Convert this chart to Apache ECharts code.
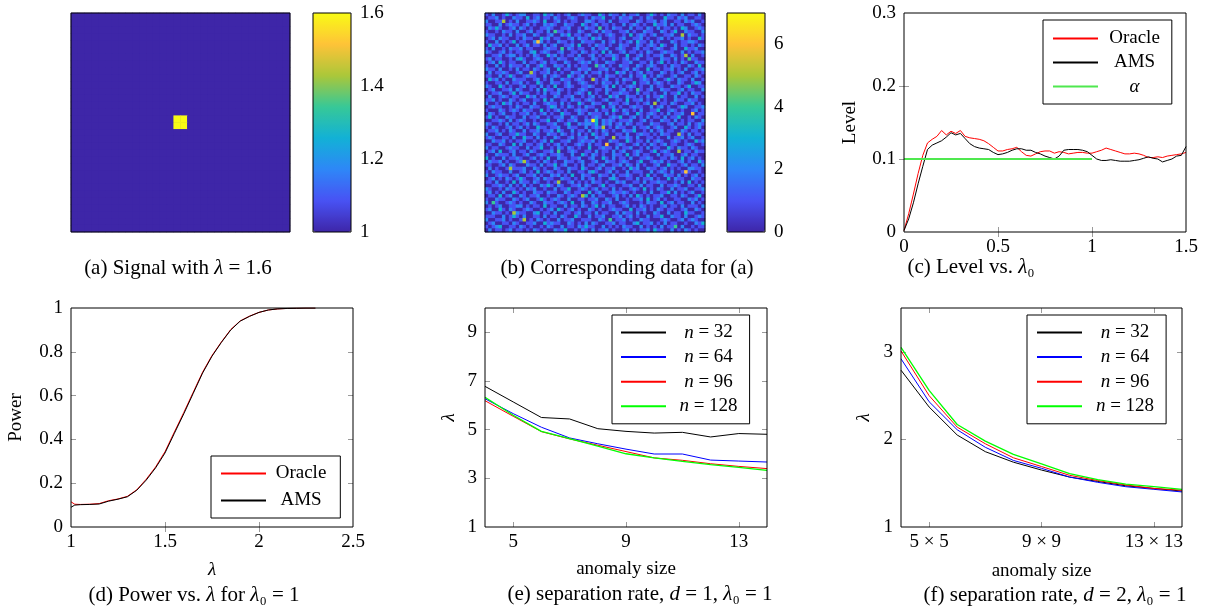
<!DOCTYPE html>
<html><head><meta charset="utf-8">
<script src="https://cdn.jsdelivr.net/npm/echarts@6/dist/echarts.min.js"></script>
<style>html,body{margin:0;padding:0;background:#fff}#c{width:1225px;height:607px}</style>
</head><body><div id="c"></div>
<script>
// ---------------- data ----------------
// (a) signal image
const signalGridSize = 32;
const signalBackground = 1;
const signalPeak = 1.6;
const signalPatchCells = [15, 16];
const signalBarMin = 1, signalBarMax = 1.6;
const signalBarTicks = [1, 1.2, 1.4, 1.6];

// (b) observed data (hand-read texture, 64x64 cells)
const noiseRows = [
'1020013101 2200110312 0101200121 1003102110 2011200131 0102110201 1020',
'0112010021 1030120110 2100121001 0211300102 1120010210 0031102120 0110',
'2001150102 0011210300 1201011002 2101102001 1100210112 0120011021 2001',
'1100201211 0120100212 1002110031 0120110100 2012101003 1120201100 1210',
'0213100120 2101001121 0011200102 1104010211 0020110210 2011010320 0121',
'1001021102 0012011020 4110100210 0120211001 1201002110 0210130021 1002',
'2110010201 1200210012 0021301101 2001012100 1030121012 0011200502 1101',
'0120211001 0211003120 1100120211 0312001101 2001120100 1201011201 0031',
'1002010130 1100262010 0211010021 1100201201 0120311020 1000210112 2100',
'0311201002 0120110201 2001120300 1021101002 1100210121 0310020110 1021',
'1020010211 2011000121 1040210110 0201120012 1001201101 2100120031 1200',
'2100120101 1002301210 0120011021 0110302001 2011010210 0121100201 0112',
'0011201220 1010210031 2010110200 1201011210 0300120101 1200210150 2001',
'1201100102 3100121001 0211002110 0210100310 1201200110 0211020104 1100',
'0120310110 0201101201 1002100121 2010021100 1120011020 1301010210 0211',
'1002010211 1020013100 2110201011 0041201002 1100210121 0010211002 1030',
'2110200102 0110210120 0301100211 2001120100 1202100301 1011201020 0112',
'0201121001 2005101120 1010021102 0112010031 2010120110 0210101200 1201',
'1100201310 0121100201 2100310120 1001021101 0020113010 2100120011 0210',
'0312010021 1100120102 0021101210 0510120010 2110012102 0013102110 2001',
'1001102011 2010031002 1101200121 0010211020 1003011201 2101002100 1320',
'2100310100 1201102010 3001210011 2100120301 0121010020 1100211013 0011',
'0120011202 1001020311 0210100121 0011021001 2010410120 0211001201 1002',
'1011200130 2110010201 1200101210 3010020112 1100201101 0020113010 2110',
'0200121011 0031201100 2101120010 1201003120 0211010201 1310020110 0201',
'1120100210 1200110302 0011021101 2100120011 0301120100 2010021102 1100',
'2001031201 0110200121 1020100310 0211002110 1200101205 0110210011 2010',
'0121100102 1002110013 2010210102 1100301201 0012110020 1201001320 0112',
'1000210121 0211003010 1201001211 0020110310 2101020011 3001210100 1201',
'0210120010 1120101201 0031100210 2111020100 1200310121 0102011200 6011',
'1301002110 0201120010 1120021001 0121001213 0012010201 1020113001 0210',
'0011210201 2100101130 0210112002 1730212101 1120012010 0211020101 1002',
'2100102011 0120210011 2001300212 2130212012 0210110021 1001201102 0121',
'1021001201 2010031101 1200211002 0121501021 1002011201 2100120031 0120',
'0112010210 0201120112 0310020110 2010210100 2113001020 1201100210 1101',
'2001200113 1100210021 1021010201 0310120011 0200121101 0211005102 0110',
'1210011020 0311020100 2100120112 0021100501 1210200110 1002011201 2001',
'0021120101 1200101203 0011200121 1201002110 0310110201 2100121010 0312',
'1100210030 2011012010 1201001210 2011060012 1001201021 0120110012 1001',
'2011001211 0020113001 0210210100 3001211020 1120010201 1003102110 2100',
'0120300120 1102100112 0400121001 1020110201 2001210013 0121005011 0211',
'1002111020 0120012101 1210020031 0210100211 0301201100 2011200120 1100',
'3010020112 1001201030 0211011200 1200310201 1020011210 0110210301 2010',
'0211201001 2510010210 1002110120 0120021101 2100130012 1201001201 0031',
'1100120210 0021102011 3012001020 1101200112 0210201001 2003110120 1102',
'0201001511 1200210100 2100211031 0012011200 1031200211 0120101002 2110',
'1021100200 1201030121 0110200110 2310012010 0201110020 1210200161 0010',
'2001211012 0011201002 1201030021 1002110201 1210010301 0021102010 1201',
'0120102101 3100120211 0021101020 1201002310 0110201120 1003021100 2110',
'1102001030 2110210010 1500120101 0211010021 2001102011 2110010203 0101',
'0011210201 0201002131 0210011202 1001301100 1120020110 0201121001 1020',
'2100102110 1021200100 2011300121 0120110201 0012103010 2100201120 0112',
'1201020031 0100211021 1002101100 3012001211 2101001020 0113020101 2001',
'0110301200 2101120010 0210121053 0201100120 1020310101 1200110210 0130',
'1002110021 0120013101 2100200110 1120021020 0101120301 2010011002 1201',
'2041001210 1002100211 0121030020 0210112001 2100010211 0301201100 2010',
'0101200112 2010110301 1002011021 0130201100 1201021010 0120110201 1102',
'1200310210 0121001012 0310120100 2101001211 0030112010 2101100120 0210',
'0021101052 1100230110 2001101201 1020110020 2110201002 1002011031 1001',
'1110020131 0200110201 1021003100 2011200112 0120100201 1300211020 0121',
'2001120100 1501021010 0201120011 1002104011 2010021100 0121001201 2100',
'0120011021 0011200312 1100210102 0210011201 1002301120 1020110010 0213',
'1012300110 2101001021 0020110213 1100201010 2110020101 0201140200 1011',
'0201101201 1010210100 2113001021 0201120100 1201011203 1100201021 0100'
];
const noiseBarMin = 0, noiseBarMax = 7;
const noiseBarTicks = [0, 2, 4, 6];

// (c) level vs lambda0
const lambda0 = [0,0.025,0.05,0.075,0.1,0.125,0.15,0.175,0.2,0.225,0.25,0.275,0.3,0.325,0.35,0.375,0.4,0.425,0.45,0.475,0.5,0.525,0.55,0.575,0.6,0.625,0.65,0.675,0.7,0.725,0.75,0.775,0.8,0.825,0.85,0.875,0.9,0.925,0.95,0.975,1.0,1.025,1.05,1.075,1.1,1.125,1.15,1.175,1.2,1.225,1.25,1.275,1.3,1.325,1.35,1.375,1.4,1.425,1.45,1.475,1.5];
const levelOracle = [0.002,0.025,0.052,0.080,0.105,0.122,0.127,0.131,0.139,0.133,0.138,0.135,0.139,0.131,0.129,0.128,0.127,0.125,0.121,0.116,0.111,0.111,0.113,0.114,0.116,0.110,0.105,0.104,0.107,0.110,0.111,0.111,0.108,0.110,0.109,0.107,0.108,0.109,0.109,0.108,0.108,0.110,0.112,0.115,0.113,0.111,0.109,0.107,0.107,0.108,0.107,0.105,0.102,0.102,0.103,0.102,0.104,0.105,0.106,0.107,0.109];
const levelAMS = [0.002,0.018,0.040,0.066,0.090,0.113,0.119,0.122,0.125,0.130,0.136,0.133,0.135,0.128,0.121,0.117,0.115,0.114,0.113,0.109,0.106,0.107,0.109,0.112,0.114,0.114,0.112,0.112,0.109,0.107,0.104,0.102,0.100,0.104,0.112,0.113,0.113,0.113,0.112,0.110,0.105,0.100,0.098,0.098,0.099,0.098,0.097,0.097,0.097,0.098,0.099,0.101,0.103,0.101,0.100,0.096,0.098,0.100,0.104,0.105,0.117];
const alphaLambda0 = [0, 1];
const alphaLevel = [0.1, 0.1];
const levelXLabels = [0, 0.5, 1, 1.5];
const levelYLabels = [0, 0.1, 0.2, 0.3];

// (d) power vs lambda
const lambdaD = [1,1.02,1.05,1.1,1.15,1.2,1.25,1.3,1.35,1.4,1.45,1.5,1.55,1.6,1.65,1.7,1.75,1.8,1.85,1.9,1.95,2,2.05,2.1,2.15,2.2,2.25,2.3];
const powerOracle = [0.115,0.104,0.103,0.104,0.107,0.120,0.128,0.140,0.170,0.218,0.274,0.344,0.434,0.523,0.615,0.707,0.783,0.845,0.902,0.941,0.963,0.980,0.991,0.996,0.998,0.999,1.0,1.0];
const powerAMS = [0.090,0.100,0.102,0.103,0.105,0.118,0.127,0.138,0.168,0.214,0.270,0.338,0.428,0.517,0.610,0.703,0.780,0.843,0.900,0.940,0.962,0.980,0.991,0.996,0.998,0.999,1.0,1.0];
const powerXLabels = [1, 1.5, 2, 2.5];
const powerYLabels = [0, 0.2, 0.4, 0.6, 0.8, 1];

// (e), (f) separation rate vs anomaly size
const anomalySize = [4,5,6,7,8,9,10,11,12,13,14];
const nLabels = ['n = 32', 'n = 64', 'n = 96', 'n = 128'];
const sepD1 = [
  [6.78,6.14,5.50,5.44,5.04,4.93,4.86,4.89,4.70,4.84,4.81],
  [6.27,5.66,5.10,4.66,4.42,4.20,4.00,4.00,3.75,3.71,3.67],
  [6.19,5.55,4.92,4.62,4.36,4.10,3.84,3.74,3.60,3.49,3.40],
  [6.33,5.59,4.93,4.63,4.32,4.01,3.84,3.70,3.56,3.45,3.33]
];
const sepD2 = [
  [2.79,2.37,2.05,1.86,1.74,1.65,1.57,1.52,1.47,1.44,1.41],
  [2.92,2.43,2.11,1.91,1.76,1.67,1.57,1.51,1.46,1.43,1.40],
  [3.01,2.50,2.14,1.95,1.79,1.69,1.59,1.53,1.48,1.44,1.42],
  [3.05,2.56,2.17,1.98,1.83,1.72,1.61,1.54,1.49,1.46,1.43]
];
const sizeTickValues = [5, 9, 13];
const sizeLabelsD1 = ['5', '9', '13'];
const sizeLabelsD2 = ['5 × 5', '9 × 9', '13 × 13'];
const sepD1YLabels = [1, 3, 5, 7, 9];
const sepD2YLabels = [1, 2, 3];

// ---------------- styling ----------------
const FONT = '"Liberation Serif", "DejaVu Serif", serif';
const FS = 19;
const CFS = 21;
const TICKC = '#9a9a9a';
const parula = ['#3e26a8','#4852f4','#2e87f7','#12b1d6','#37c897','#abc739','#fec338','#f9fb15'];
const nColors = ['#000000', '#0000ff', '#ff0000', '#00ff00'];

const chart = echarts.init(document.getElementById('c'), null, {renderer: 'canvas'});

const rects = [
  {left: 71, top: 13, width: 219, height: 219},
  {left: 313, top: 13, width: 38, height: 219},
  {left: 485, top: 13, width: 220, height: 219},
  {left: 727, top: 13, width: 38, height: 219},
  {left: 904, top: 13, width: 282, height: 219},
  {left: 71, top: 308, width: 282, height: 219},
  {left: 485, top: 308, width: 282, height: 219},
  {left: 901, top: 308, width: 281, height: 219}
];
const grids = rects.map(g => Object.assign({show: true, borderColor: '#000', borderWidth: 1, backgroundColor: 'transparent', z: 10}, g));
// underlays behind the two images (fill sub-pixel seams between cells)
grids.push(Object.assign({show: true, borderWidth: 0, backgroundColor: parula[0], z: 0}, rects[0]));
grids.push(Object.assign({show: true, borderWidth: 0, backgroundColor: '#3f4fd6', z: 0}, rects[2]));

const xAxes = [], yAxes = [], series = [];
const tick = (vals) => ({show: true, inside: true, length: 5, lineStyle: {color: TICKC, width: 1}, customValues: vals});
const lab = (vals, fmt, margin) => ({show: true, customValues: vals, formatter: fmt, margin: margin, color: '#000', fontFamily: FONT, fontSize: FS});
const nameStyle = (italic) => ({fontFamily: FONT, fontSize: FS, color: '#000', fontStyle: italic ? 'italic' : 'normal'});

function heatAxes(gi, n) {
  const cats = Array.from({length: n}, (_, i) => String(i));
  xAxes.push({type: 'category', gridIndex: gi, data: cats, show: false});
  yAxes.push({type: 'category', gridIndex: gi, data: cats, show: false, inverse: true});
  return [xAxes.length - 1, yAxes.length - 1];
}
function barAxes(gi, min, max, labels) {
  const inner = labels.filter(v => v !== min && v !== max);
  xAxes.push({type: 'value', gridIndex: gi, min: 0, max: 1, show: false});
  yAxes.push({type: 'value', gridIndex: gi, min, max, position: 'left', axisLine: {show: false}, splitLine: {show: false}, axisTick: tick(inner), axisLabel: {show: false}});
  yAxes.push({type: 'value', gridIndex: gi, min, max, position: 'right', axisLine: {show: false}, splitLine: {show: false}, axisTick: tick(inner), axisLabel: lab(labels, v => String(v), 9)});
}
function cartAxes(gi, xs, ys) {
  const xi = xAxes.length, yi = yAxes.length;
  xAxes.push({type: 'value', gridIndex: gi, min: xs.min, max: xs.max, position: 'bottom', axisLine: {show: false}, splitLine: {show: false},
    axisTick: tick(xs.ticks), axisLabel: lab(xs.labels, xs.fmt, 6),
    name: xs.name, nameLocation: 'middle', nameGap: xs.nameGap, nameMoveOverlap: false, nameTextStyle: nameStyle(xs.italic)});
  xAxes.push({type: 'value', gridIndex: gi, min: xs.min, max: xs.max, position: 'top', axisLine: {show: false}, splitLine: {show: false},
    axisTick: tick(xs.ticks), axisLabel: {show: false}});
  yAxes.push({type: 'value', gridIndex: gi, min: ys.min, max: ys.max, position: 'left', axisLine: {show: false}, splitLine: {show: false},
    axisTick: tick(ys.ticks), axisLabel: lab(ys.labels, ys.fmt, 8),
    name: ys.name, nameLocation: 'middle', nameGap: ys.nameGap, nameRotate: 90, nameMoveOverlap: false, nameTextStyle: nameStyle(ys.italic)});
  yAxes.push({type: 'value', gridIndex: gi, min: ys.min, max: ys.max, position: 'right', axisLine: {show: false}, splitLine: {show: false},
    axisTick: tick(ys.ticks), axisLabel: {show: false}});
  return [xi, yi];
}
const zip = (xs, ys) => xs.map((x, i) => [x, ys[i]]);
function lineSeries(name, ax, xs, ys, color, width) {
  series.push({type: 'line', name, xAxisIndex: ax[0], yAxisIndex: ax[1], data: zip(xs, ys), symbol: 'none', showSymbol: false,
    color, itemStyle: {color}, lineStyle: {color, width: width || 1}, animation: false, silent: true});
}

// (a)
const axA = heatAxes(0, signalGridSize);
const signalData = [];
for (let r = 0; r < signalGridSize; r++) for (let c = 0; c < signalGridSize; c++) {
  const inPatch = signalPatchCells.includes(r) && signalPatchCells.includes(c);
  signalData.push([c, r, inPatch ? signalPeak : signalBackground]);
}
series.push({type: 'heatmap', xAxisIndex: axA[0], yAxisIndex: axA[1], data: signalData, progressive: 0, itemStyle: {borderWidth: 0}, emphasis: {disabled: true}, silent: true});
barAxes(1, signalBarMin, signalBarMax, signalBarTicks);

// (b)
const noiseGrid = noiseRows.map(r => r.replace(/\s/g, '').split('').map(Number));
const axB = heatAxes(2, noiseGrid.length);
const noiseData = [];
noiseGrid.forEach((row, r) => row.forEach((v, c) => noiseData.push([c, r, v])));
series.push({type: 'heatmap', xAxisIndex: axB[0], yAxisIndex: axB[1], data: noiseData, progressive: 0, itemStyle: {borderWidth: 0}, emphasis: {disabled: true}, silent: true});
barAxes(3, noiseBarMin, noiseBarMax, noiseBarTicks);

// (c)
const axC = cartAxes(4,
  {min: 0, max: 1.5, labels: levelXLabels, ticks: [0.5, 1], fmt: v => String(v), name: '', nameGap: 30},
  {min: 0, max: 0.3, labels: levelYLabels, ticks: [0.1, 0.2], fmt: v => String(v), name: 'Level', nameGap: 44});
lineSeries('Oracle', axC, lambda0, levelOracle, '#ff0000');
lineSeries('AMS', axC, lambda0, levelAMS, '#000000');
lineSeries('α', axC, alphaLambda0, alphaLevel, '#4fe84f', 2);

// (d)
const axD = cartAxes(5,
  {min: 1, max: 2.5, labels: powerXLabels, ticks: [1.5, 2], fmt: v => String(v), name: 'λ', italic: true, nameGap: 33},
  {min: 0, max: 1, labels: powerYLabels, ticks: [0.2, 0.4, 0.6, 0.8], fmt: v => String(v), name: 'Power', nameGap: 45});
lineSeries('Oracle', axD, lambdaD, powerOracle, '#ff0000');
lineSeries('AMS', axD, lambdaD, powerAMS, '#000000');

// (e)
const axE = cartAxes(6,
  {min: 4, max: 14, labels: sizeTickValues, ticks: sizeTickValues, fmt: v => sizeLabelsD1[sizeTickValues.indexOf(v)], name: 'anomaly size', nameGap: 33},
  {min: 1, max: 10, labels: sepD1YLabels, ticks: [3, 5, 7, 9], fmt: v => String(v), name: 'λ', italic: true, nameGap: 27});
sepD1.forEach((ys, k) => lineSeries(nLabels[k], axE, anomalySize, ys, nColors[k], k === 3 ? 1.3 : 1));

// (f)
const axF = cartAxes(7,
  {min: 4, max: 14, labels: sizeTickValues, ticks: sizeTickValues, fmt: v => sizeLabelsD2[sizeTickValues.indexOf(v)], name: 'anomaly size', nameGap: 35},
  {min: 1, max: 3.5, labels: sepD2YLabels, ticks: [2, 3], fmt: v => String(v), name: 'λ', italic: true, nameGap: 28});
sepD2.forEach((ys, k) => lineSeries(nLabels[k], axF, anomalySize, ys, nColors[k], k === 3 ? 1.3 : 1));

// hidden axes for the two underlay grids
[8, 9].forEach(gi => {
  xAxes.push({type: 'value', gridIndex: gi, min: 0, max: 1, show: false});
  yAxes.push({type: 'value', gridIndex: gi, min: 0, max: 1, show: false});
});

// legends
const richLeg = {
  r: {fontFamily: FONT, fontSize: FS, color: '#000', align: 'center', lineHeight: 20},
  i: {fontFamily: FONT, fontSize: FS, color: '#000', align: 'center', lineHeight: 20, fontStyle: 'italic'}
};
const legFmt = name => {
  if (name === 'α') return '{i|α}';
  if (name.startsWith('n =')) return '{i|n}{r|' + name.slice(1) + '}';
  return '{r|' + name + '}';
};
function legend(data, left, top, textW, pad, gap) {
  return {data, left, top, orient: 'vertical', selectedMode: false, itemWidth: 45, itemHeight: 12, itemGap: gap,
    padding: pad, borderColor: '#000', borderWidth: 1, backgroundColor: '#fff', z: 20,
    itemStyle: {opacity: 0, borderWidth: 0}, formatter: legFmt,
    textStyle: {fontFamily: FONT, fontSize: FS, color: '#000', width: textW, rich: richLeg}};
}
const legends = [
  legend(['Oracle', 'AMS', 'α'], 1043, 20, 63, [9, 12, 8, 9], 5),
  legend(['Oracle', 'AMS'], 211, 456, 60, [8, 14, 8, 9], 8),
  legend(nLabels, 612, 315, 75, [8, 12, 8, 8], 5.6),
  legend(nLabels, 1027, 315, 76, [8, 12, 8, 9], 5.6)
];

// captions
const capRich = {
  r: {fontFamily: FONT, fontSize: CFS, color: '#000'},
  i: {fontFamily: FONT, fontSize: CFS, color: '#000', fontStyle: 'italic'}
};
const cap = (x, y, text) => ({type: 'text', x, y, silent: true, style: {text, rich: capRich, align: 'center', verticalAlign: 'middle', font: CFS + 'px ' + FONT, fill: '#000'}});
const graphics = [
  cap(178, 268, '{r|(a) Signal with }{i|λ}{r| = 1.6}'),
  cap(627, 268, '{r|(b) Corresponding data for (a)}'),
  cap(971, 267, '{r|(c) Level vs. }{i|λ}{r|₀}'),
  cap(194, 595, '{r|(d) Power vs. }{i|λ}{r| for }{i|λ}{r|₀ = 1}'),
  cap(640, 594, '{r|(e) separation rate, }{i|d}{r| = 1, }{i|λ}{r|₀ = 1}'),
  cap(1055, 595, '{r|(f) separation rate, }{i|d}{r| = 2, }{i|λ}{r|₀ = 1}')
];

chart.setOption({
  animation: false,
  backgroundColor: '#fff',
  grid: grids,
  xAxis: xAxes,
  yAxis: yAxes,
  visualMap: [
    {type: 'continuous', seriesIndex: 0, min: signalBarMin, max: signalBarMax, inRange: {color: parula}, left: 313, top: 13, itemWidth: 38, itemHeight: 219, calculable: false, padding: 0, hoverLink: false, orient: 'vertical'},
    {type: 'continuous', seriesIndex: 1, min: noiseBarMin, max: noiseBarMax, inRange: {color: parula}, left: 727, top: 13, itemWidth: 38, itemHeight: 219, calculable: false, padding: 0, hoverLink: false, orient: 'vertical'}
  ],
  legend: legends,
  series,
  graphic: graphics
});
</script></body></html>
